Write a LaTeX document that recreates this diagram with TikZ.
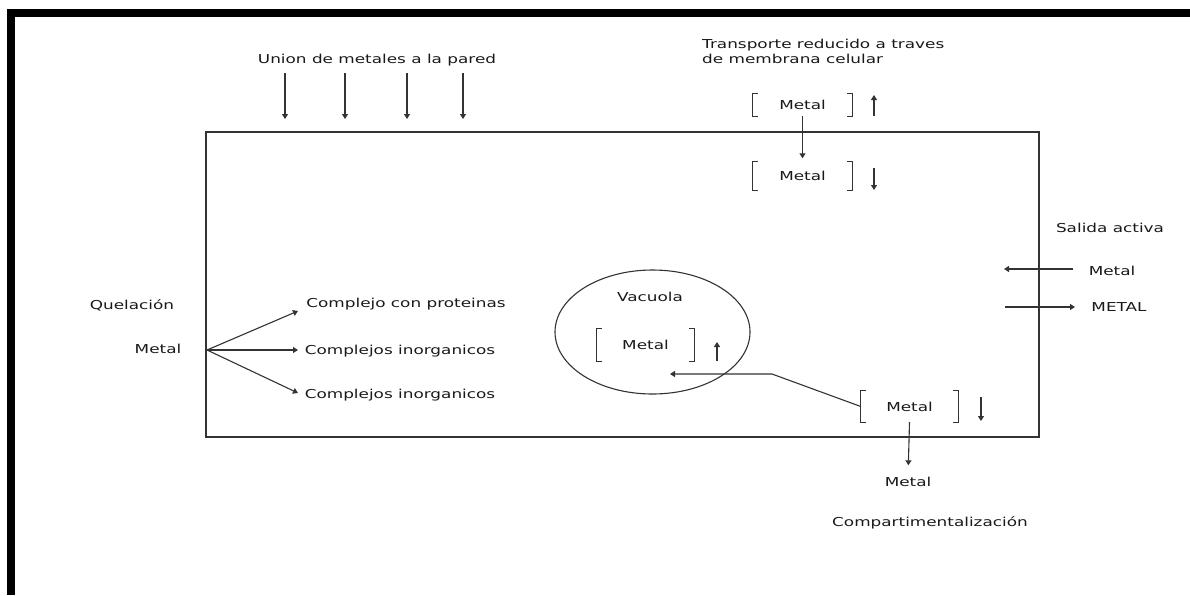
\documentclass[tikz,border=0pt]{standalone}
\usepackage{fontspec}
\newfontfamily\vf[FakeStretch=1.37]{DejaVu Sans}
\usetikzlibrary{arrows.meta}
\newcommand\drawbrackets[1]{%
  \draw[ln] ([xshift=5pt]#1.north west) -| (#1.south west) -- ++(5pt,0)
            ([xshift=-5pt]#1.north east) -| (#1.south east) -- ++(-5pt,0);}
\begin{document}
\begin{tikzpicture}[x=1pt,y=-1pt,
  lbl/.style={font=\vf\fontsize{12.3}{15}\selectfont, inner sep=0pt, text=black!90,
              text height=9pt, text depth=0pt},
  ln/.style={line width=1.1pt, draw=black!80},
  arr/.style={ln, -{Triangle[length=5pt,width=6pt]}},
  brkbox/.style 2 args={lbl, minimum width=#1, minimum height=#2}
]
\useasboundingbox (0,0) rectangle (1190,595);
% outer thick frame (top and left)
\fill[black] (6.5,9) rectangle (1190,17);
\fill[black] (6.5,9) rectangle (14.5,595);
% cell
\draw[ln] (206,132) rectangle (1039,437);

% wall binding
\node[lbl] (union) at (377,59) {Union de metales a la pared};
\foreach \x [count=\i] in {285,345,407,463}{
  \coordinate (ua\i) at (\x,73);
  \coordinate (ub\i) at (\x,119);
  \draw[arr] (ua\i) -- (ub\i);
}

% reduced transport
\node[lbl, text height=, text depth=, anchor=north west, align=left] (transp) at (702,38.7)
  {Transporte reducido a traves\\de membrana celular};
\node[brkbox={99pt}{22pt}] (m1) at (802.5,105) {Metal};
\drawbrackets{m1}
\node[brkbox={99pt}{29pt}] (m2) at (802.5,176) {Metal};
\drawbrackets{m2}
\draw[arr, shorten >=3pt] (m1.south) -- (m2.north);
\coordinate (u1a) at (874,116); \coordinate (u1b) at (874,95);
\draw[arr] (u1a) -- (u1b);
\coordinate (d1a) at (874,168); \coordinate (d1b) at (874,190);
\draw[arr] (d1a) -- (d1b);

% active efflux
\node[lbl] (salida) at (1110,228) {Salida activa};
\node[lbl] (sm) at (1112,271) {Metal};
\coordinate (sa1) at (1073,269); \coordinate (sa2) at (1004,269);
\draw[arr] (sa1) -- (sa2);
\node[lbl] (sM) at (1119,307) {METAL};
\coordinate (sb1) at (1005,307); \coordinate (sb2) at (1075,307);
\draw[arr] (sb1) -- (sb2);

% chelation
\node[lbl] (quel) at (132,305) {Quelación};
\node[lbl] (qm) at (158,349) {Metal};
\coordinate (q0) at (207,350);
\node[lbl] (t1) at (406,303) {Complejo con proteinas};
\node[lbl] (t2) at (400,350) {Complejos inorganicos};
\node[lbl] (t3) at (400,394) {Complejos inorganicos};
\coordinate (c1) at (298,311);
\coordinate (c2) at (298,350);
\coordinate (c3) at (298,393);
\draw[arr] (q0) -- (c1);
\draw[arr] (q0) -- (c2);
\draw[arr] (q0) -- (c3);

% vacuole
\draw[ln] (652.5,332) ellipse [x radius=97.5, y radius=62];
\node[lbl] (vac) at (650,297) {Vacuola};
\node[brkbox={97pt}{32pt}] (vm) at (645.5,345) {Metal};
\drawbrackets{vm}
\coordinate (vu1) at (717,361); \coordinate (vu2) at (717,342);
\draw[arr] (vu1) -- (vu2);

% compartmentalization
\node[brkbox={97pt}{31pt}] (lm) at (909.5,406.5) {Metal};
\drawbrackets{lm}
\coordinate (ld1) at (981,397); \coordinate (ld2) at (981,421);
\draw[arr] (ld1) -- (ld2);
\coordinate (bend) at (772,374);
\coordinate (vin) at (670,374);
\draw[arr] (lm.west) -- (bend) -- (vin);
\node[lbl] (lo) at (908,482) {Metal};
\draw[arr, shorten >=12pt] (lm.south) -- (lo.north);
\node[lbl] (comp) at (930,522) {Compartimentalización};
\end{tikzpicture}
\end{document}
